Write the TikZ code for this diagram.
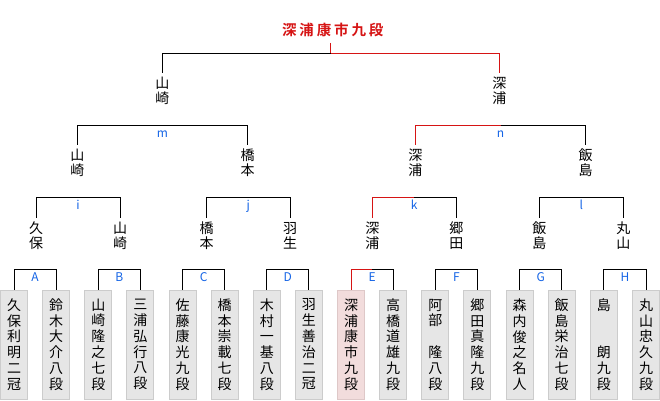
\documentclass[tikz,border=0pt]{standalone}
\usepackage{fontspec}
\newfontfamily\jp{Noto Sans CJK JP}
\newfontfamily\jptitle{Noto Sans CJK JP Bold}[LetterSpace=20]
\definecolor{winred}{RGB}{214,20,20}
\definecolor{lblblue}{RGB}{20,100,230}
\definecolor{boxgray}{RGB}{230,230,230}
\definecolor{boxedge}{RGB}{204,204,204}
\definecolor{boxpink}{RGB}{242,220,220}
\definecolor{pinkedge}{RGB}{222,200,200}
\begin{document}
\begin{tikzpicture}[x=1pt,y=-1pt,line width=1pt,
  leaf/.style={draw=boxedge,fill=boxgray,minimum width=27pt,minimum height=109pt,inner sep=0pt,align=center,font=\jp\fontsize{14pt}{15.8pt}\selectfont},
  champ/.style={leaf,draw=pinkedge,fill=boxpink},
  pname/.style={inner sep=0pt,minimum height=35pt,align=center,font=\jp\fontsize{14pt}{15.3pt}\selectfont},
  lbl/.style={text=lblblue,font=\jp\fontsize{12pt}{12pt}\selectfont,anchor=base,inner sep=0pt},
  wline/.style={draw=winred},
  ttl/.style={text=winred,font=\jptitle\fontsize{14.5pt}{15pt}\selectfont,inner sep=0pt,minimum height=24.6pt,anchor=west}]
\fill[white] (0,0) rectangle (660,400);
\useasboundingbox (0,0) rectangle (660,400);

% leaves
\node[leaf]  (L0)  at (14,344.5)    {久\\保\\利\\明\\二\\冠};
\node[leaf]  (L1)  at (56.1,344.5)  {鈴\\木\\大\\介\\八\\段};
\node[leaf]  (L2)  at (98.3,344.5)  {山\\崎\\隆\\之\\七\\段};
\node[leaf]  (L3)  at (140.4,344.5) {三\\浦\\弘\\行\\八\\段};
\node[leaf]  (L4)  at (182.5,344.5) {佐\\藤\\康\\光\\九\\段};
\node[leaf]  (L5)  at (224.7,344.5) {橋\\本\\崇\\載\\七\\段};
\node[leaf]  (L6)  at (266.8,344.5) {木\\村\\一\\基\\八\\段};
\node[leaf]  (L7)  at (308.9,344.5) {羽\\生\\善\\治\\二\\冠};
\node[champ] (L8)  at (351,344.5)   {深\\浦\\康\\市\\九\\段};
\node[leaf]  (L9)  at (393.2,344.5) {高\\橋\\道\\雄\\九\\段};
\node[leaf]  (L10) at (435.3,344.5) {阿\\部\\\phantom{阿}\\隆\\八\\段};
\node[leaf]  (L11) at (477.4,344.5) {郷\\田\\真\\隆\\九\\段};
\node[leaf]  (L12) at (519.6,344.5) {森\\内\\俊\\之\\名\\人};
\node[leaf]  (L13) at (561.7,344.5) {飯\\島\\栄\\治\\七\\段};
\node[leaf]  (L14) at (603.8,344.5) {島\\\phantom{島}\\\phantom{島}\\朗\\九\\段};
\node[leaf]  (L15) at (646,344.5)   {丸\\山\\忠\\久\\九\\段};

% round 1 brackets
\coordinate (mA) at (35.05,269.3);
\coordinate (mB) at (119.35,269.3);
\coordinate (mC) at (203.6,269.3);
\coordinate (mD) at (287.85,269.3);
\coordinate (mE) at (372.1,269.3);
\coordinate (mF) at (456.35,269.3);
\coordinate (mG) at (540.65,269.3);
\coordinate (mH) at (624.9,269.3);
\draw (L0.north) |- (mA) -| (L1.north);
\draw (L2.north) |- (mB) -| (L3.north);
\draw (L4.north) |- (mC) -| (L5.north);
\draw (L6.north) |- (mD) -| (L7.north);
\draw[wline] (L8.north) |- (mE);
\draw (mE) -| (L9.north);
\draw (L10.north) |- (mF) -| (L11.north);
\draw (L12.north) |- (mG) -| (L13.north);
\draw (L14.north) |- (mH) -| (L15.north);
\node[lbl] (lA) at (35.05,281) {A};
\node[lbl] (lB) at (119.35,281) {B};
\node[lbl] (lC) at (203.6,281) {C};
\node[lbl] (lD) at (287.85,281) {D};
\node[lbl] (lE) at (372.1,281) {E};
\node[lbl] (lF) at (456.35,281) {F};
\node[lbl] (lG) at (540.65,281) {G};
\node[lbl] (lH) at (624.9,281) {H};

% round 2 names
\node[pname] (Q0) at (36,235.5)    {久\\保};
\node[pname] (Q1) at (120,235.5)   {山\\崎};
\node[pname] (Q2) at (206.7,235.5) {橋\\本};
\node[pname] (Q3) at (290,235.5)   {羽\\生};
\node[pname] (Q4) at (372.3,235.5) {深\\浦};
\node[pname] (Q5) at (456.3,235.5) {郷\\田};
\node[pname] (Q6) at (539.3,235.5) {飯\\島};
\node[pname] (Q7) at (623.3,235.5) {丸\\山};
\coordinate (mi) at (78,197.3);
\coordinate (mj) at (248.35,197.3);
\coordinate (mk) at (414.3,197.3);
\coordinate (ml) at (581.3,197.3);
\draw (Q0.north) |- (mi) -| (Q1.north);
\draw (Q2.north) |- (mj) -| (Q3.north);
\draw[wline] (Q4.north) |- (mk);
\draw (mk) -| (Q5.north);
\draw (Q6.north) |- (ml) -| (Q7.north);
\node[lbl] (li) at (78,209)     {i};
\node[lbl] (lj) at (248.35,209) {j};
\node[lbl] (lk) at (414.3,209)  {k};
\node[lbl] (ll) at (581.3,209)  {l};

% round 3 names
\node[pname] (R0) at (77.3,162.8)  {山\\崎};
\node[pname] (R1) at (247.7,162.8) {橋\\本};
\node[pname] (R2) at (415.3,162.8) {深\\浦};
\node[pname] (R3) at (585.7,162.8) {飯\\島};
\coordinate (mm) at (162.5,125.3);
\coordinate (mn) at (500.5,125.3);
\draw (R0.north) |- (mm) -| (R1.north);
\draw[wline] (R2.north) |- (mn);
\draw (mn) -| (R3.north);
\node[lbl] (lm) at (162.5,137) {m};
\node[lbl] (ln) at (500.5,137) {n};

% final
\node[pname] (S0) at (162.3,90.8) {山\\崎};
\node[pname] (S1) at (499.4,90.8) {深\\浦};
\coordinate (mt) at (330.8,53.3);
\draw (S0.north) |- (mt);
\draw[wline] (mt) -| (S1.north);
\node[ttl] (T) at (281.5,30) {深浦康市九段};
\draw[wline] (T.south -| mt) -- (mt);
\end{tikzpicture}
\end{document}
